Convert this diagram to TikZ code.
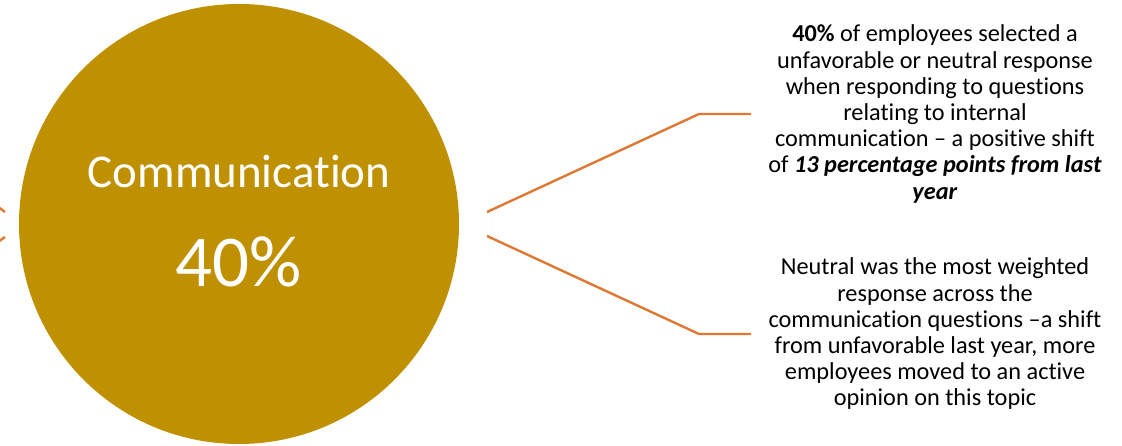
\documentclass[tikz,border=0pt]{standalone}
\usepackage{fontspec}
\setmainfont[Ligatures={NoCommon,NoRare,NoContextual}]{Carlito}
\definecolor{gold}{RGB}{191,144,0}
\definecolor{conn}{RGB}{223,121,50}
\tikzset{
  connector/.style={draw=conn, line width=2.4pt},
  bubble/.style={circle, fill=gold, minimum size=440pt, inner sep=0pt},
  bigtext/.style={text=white, inner sep=0pt},
  note/.style={align=center, inner sep=0pt, font=\fontsize{24.3}{26.2}\selectfont}
}
\begin{document}
\begin{tikzpicture}[x=1pt,y=-1pt]
\useasboundingbox (0,0) rectangle (1122,446);
\clip (0,0) rectangle (1122,446);
\node[bubble] (circ) at (239,224) {};
\node[bigtext, font=\fontsize{47}{56}\selectfont] (title) at (239,172) {Communication};
\node[bigtext, font=\fontsize{73}{80}\selectfont] (pct) at (239,262) {40\%};

\node[note] (noteA) at (935,114) {\textbf{40\%} of employees selected a\\
unfavorable or neutral response\\
when responding to questions\\
relating to internal\\
communication -- a positive shift\\
of \textbf{\textit{13 percentage points from last}}\\
\textbf{\textit{year}}};

\node[note] (noteB) at (935,334) {Neutral was the most weighted\\
response across the\\
communication questions --a shift\\
from unfavorable last year, more\\
employees moved to an active\\
opinion on this topic};

\coordinate (a1) at (487,212);
\coordinate (a2) at (699,114);
\coordinate (a3) at (751,114);
\coordinate (b1) at (487,236);
\coordinate (b2) at (699,334);
\coordinate (b3) at (751,334);
\coordinate (la1) at (-25,190);
\coordinate (la2) at (5,212);
\coordinate (lb1) at (-25,258);
\coordinate (lb2) at (5,237);

\draw[connector] (a1) -- (a2) -- (a3);
\draw[connector] (b1) -- (b2) -- (b3);
\draw[connector] (la1) -- (la2);
\draw[connector] (lb1) -- (lb2);
\end{tikzpicture}
\end{document}
